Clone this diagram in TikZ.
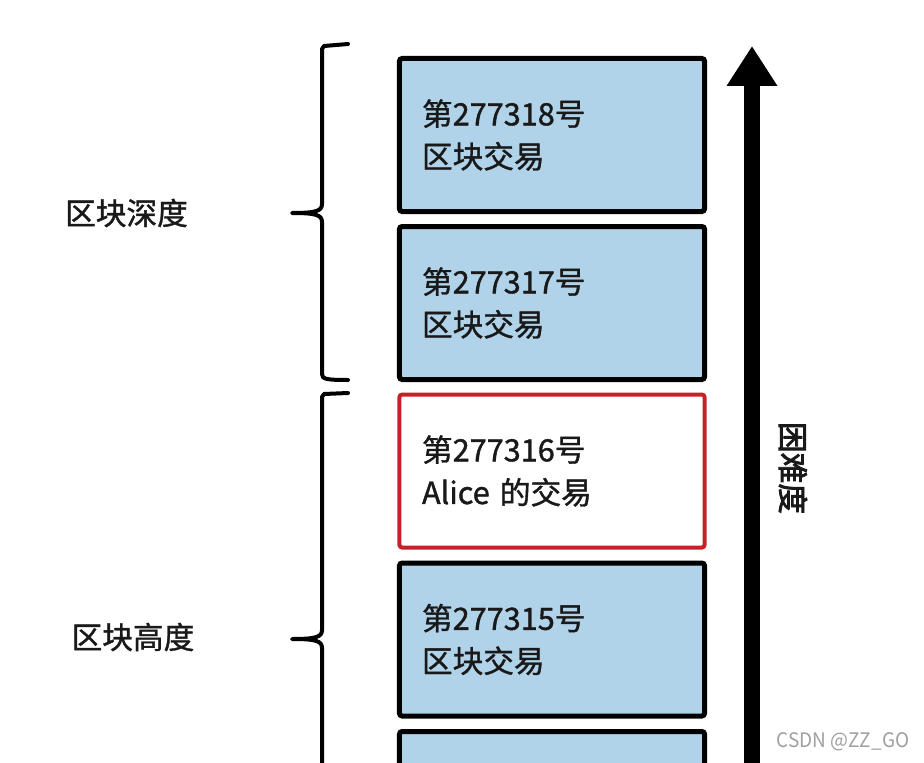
\documentclass[tikz,border=0pt]{standalone}
\usepackage{fontspec}
\setmainfont{Noto Sans CJK SC}
\newfontfamily\cjk[FakeBold=1.2]{Noto Sans CJK SC}
\newfontfamily\cjkbold[FakeBold=2.5]{Noto Sans CJK SC}
\newfontfamily\cjklight{Noto Sans CJK SC}
\usetikzlibrary{arrows.meta}
\definecolor{boxblue}{RGB}{176,211,234}
\definecolor{boxred}{RGB}{200,32,42}
\definecolor{txt}{RGB}{25,25,25}
\definecolor{wm}{RGB}{160,160,160}
\tikzset{
  blockbox/.style={draw=black, fill=boxblue, line width=3.75pt, rounded corners=2pt,
    minimum width=228.75pt, minimum height=114.75pt, inner xsep=16.9pt,
    text width=195pt, align=left, font=\cjk\fontsize{23pt}{32pt}\selectfont, text=txt},
  alicebox/.style={blockbox, draw=boxred, fill=white, line width=3pt},
  bracepath/.style={draw=black, line width=3pt, line cap=round, line join=round},
  sidelabel/.style={font=\cjk\fontsize{23pt}{28pt}\selectfont, text=txt, inner sep=0pt},
  bigarrow/.style={draw=black, line width=12pt, -{Triangle[length=30pt, width=36pt]}},
}
\begin{document}
\begin{tikzpicture}[x=0.75pt, y=-0.75pt]
\clip (0,0) rectangle (924,763);
\fill[white] (0,0) rectangle (924,763);

% blocks
\node[blockbox] (b1) at (552,135) {第277318号\\区块交易};
\node[blockbox] (b2) at (552,303) {第277317号\\区块交易};
\node[alicebox] (b3) at (552,471) {第277316号\\Alice 的交易};
\node[blockbox] (b4) at (552,639.5) {第277315号\\区块交易};
\node[blockbox] (b5) at (552,808) {};

% difficulty arrow
\coordinate (arrlow) at (752,790);
\coordinate (arrtop) at (752,46);
\draw[bigarrow] (arrlow) -- (arrtop);
\node[sidelabel, font=\cjkbold\fontsize{23pt}{28pt}\selectfont, rotate=-90] (diff) at (793,468) {困难度};

% brace 1 (depth)
\draw[bracepath] (348,44) -- (324,46) -- (322,49) -- (322,204)
  .. controls (322,211) and (316,213) .. (292,213)
  .. controls (316,213) and (322,215) .. (322,222)
  -- (322,374) .. controls (322,379) and (326,380) .. (348,380);
\node[sidelabel] (depth) at (126.5,213) {区块深度};

% brace 2 (height)
\draw[bracepath] (348,393) -- (324,394) -- (322,397) -- (322,630)
  .. controls (322,637) and (316,639) .. (292,639)
  .. controls (316,639) and (322,641) .. (322,648)
  -- (322,800);
\node[sidelabel] (height) at (133,637) {区块高度};

% watermark
\node[font=\cjklight\fontsize{15pt}{18pt}\selectfont, text=wm, inner sep=0pt, xscale=0.95] (wmark) at (843,742) {CSDN @ZZ\_GO};
\end{tikzpicture}
\end{document}
